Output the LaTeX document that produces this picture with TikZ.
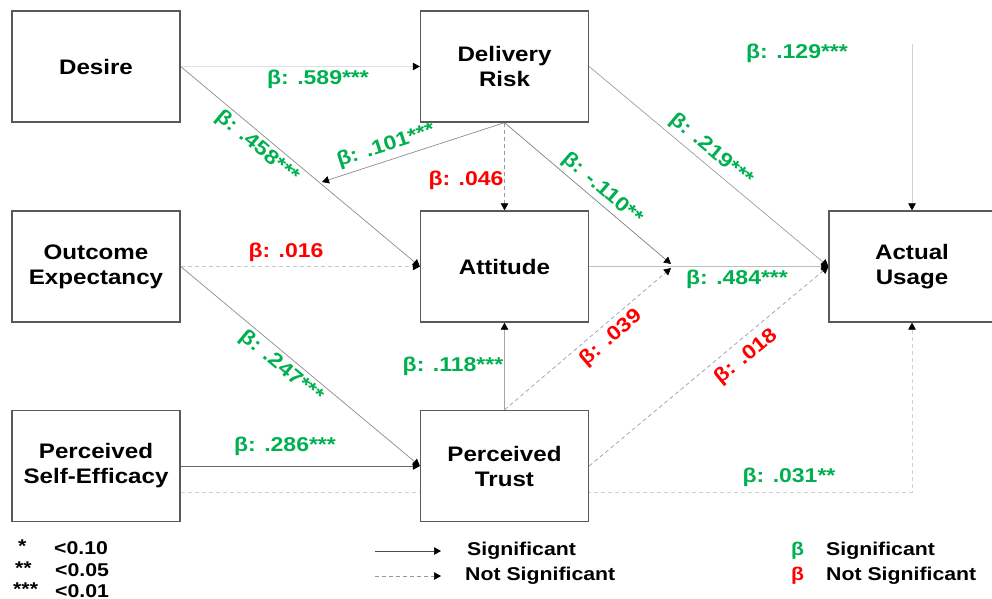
\documentclass[tikz,border=0pt]{standalone}
\usepackage{fontspec}
\setmainfont{Liberation Sans}[FakeStretch=1.15]
\usetikzlibrary{arrows.meta,calc,backgrounds}
\definecolor{sigG}{HTML}{00B050}
\definecolor{nsR}{HTML}{FF0000}
\definecolor{boxline}{HTML}{595959}
\begin{document}
\begin{tikzpicture}[x=1pt,y=-1pt,
  box/.style={draw=boxline,line width=1.3pt,fill=white,minimum width=168pt,minimum height=111pt,inner sep=0pt,align=center,font=\fontsize{21}{25}\selectfont\bfseries},
  lab/.style={font=\fontsize{20}{24}\selectfont\bfseries,inner sep=0pt},
  sg/.style={lab,text=sigG},
  ns/.style={lab,text=nsR},
  conn/.style={line width=0.7pt,-{Triangle[length=7pt,width=7.5pt,color=black]}},
  dsh/.style={conn,dash pattern=on 4pt off 3pt},
  leg/.style={font=\fontsize{18.5}{22}\selectfont\bfseries,inner sep=0pt,anchor=west}]
\useasboundingbox (0,0) rectangle (992,598);
\clip (0,0) rectangle (992,598);
% boxes
\node[box] (des) at (96,66.5) {Desire};
\node[box] (dr) at (504.5,66.5) {Delivery\\Risk};
\node[box] (oe) at (96,266.5) {Outcome\\Expectancy};
\node[box] (att) at (504.5,266.5) {Attitude};
\node[box,minimum width=166pt] (au) at (912,266.5) {Actual\\Usage};
\node[box] (se) at (96,466) {Perceived\\Self-Efficacy};
\node[box] (pt) at (504.5,466) {Perceived\\Trust};
% free ends
\coordinate (m1) at (322,182);
\coordinate (m2a) at (671,264);
\coordinate (m2b) at (671,268);
\coordinate (top) at (912,44);
\begin{scope}[on background layer]
\draw[conn,draw=black!12] (des.east) -- (dr.west);
\draw[conn,draw=black!45] (des.east) -- (att.west);
\draw[conn,draw=black!45] (dr.south) -- (m1);
\draw[dsh,draw=black!40] (dr.south) -- (att.north);
\draw[conn,draw=black!50] (dr.south) -- (m2a);
\draw[conn,draw=black!38] (dr.east) -- (au.west);
\draw[conn,draw=black!18] (top) -- (au.north);
\draw[dsh,draw=black!22] (oe.east) -- (att.west);
\draw[conn,draw=black!45] (oe.east) -- (pt.west);
\draw[conn,draw=black!60] (se.east) -- (pt.west);
\draw[dsh,draw=black!18] ([yshift=-26pt]se.east) -| (au.south);
\draw[conn,draw=black!35] (pt.north) -- (att.south);
\draw[dsh,draw=black!38] (pt.north) -- (m2b);
\draw[dsh,draw=black!38] (pt.east) -- (au.west);
\draw[conn,draw=black!25] (att.east) -- (au.west);
\end{scope}
% coefficient labels
\node[sg] (l1) at (318,79) {β: .589***};
\node[sg,rotate=-39.8] (l2) at (257,147) {β: .458***};
\node[sg,rotate=18.2] (l3) at (386,146) {β: .101***};
\node[ns] (l4) at (466,180) {β: .046};
\node[sg,rotate=-40.8] (l5) at (602,189) {β: -.110**};
\node[sg,rotate=-39.7] (l6) at (711,150) {β: .219***};
\node[sg] (l7) at (797,53) {β: .129***};
\node[sg] (l8) at (737,279) {β: .484***};
\node[ns] (l9) at (286,252) {β: .016};
\node[sg,rotate=-39.5] (l10) at (281,367) {β: .247***};
\node[sg] (l11) at (285,446) {β: .286***};
\node[sg] (l12) at (453,366) {β: .118***};
\node[ns,rotate=40.7] (l13) at (611,338) {β: .039};
\node[ns,rotate=39.4] (l14) at (746,357) {β: .018};
\node[sg] (l15) at (789,477) {β: .031**};
% legend
\node[leg] (s1) at (18,546) {*};
\node[leg] (s2) at (15,568) {**};
\node[leg] (s3) at (13,589) {***};
\node[leg] (p1) at (54,548) {<0.10};
\node[leg] (p2) at (55,570) {<0.05};
\node[leg] (p3) at (55,591) {<0.01};
\coordinate (la1) at (375,551);
\coordinate (lb1) at (441,551);
\coordinate (la2) at (375,576);
\coordinate (lb2) at (441,576);
\draw[conn,draw=black!70] (la1) -- (lb1);
\draw[dsh,draw=black!40] (la2) -- (lb2);
\node[leg] (t1) at (467,551) {Significant};
\node[leg] (t2) at (465,576) {Not Significant};
\node[leg,text=sigG] (g1) at (791,551) {β};
\node[leg,text=nsR] (r1) at (791,576) {β};
\node[leg] (t3) at (826,551) {Significant};
\node[leg] (t4) at (826,576) {Not Significant};
\end{tikzpicture}
\end{document}
